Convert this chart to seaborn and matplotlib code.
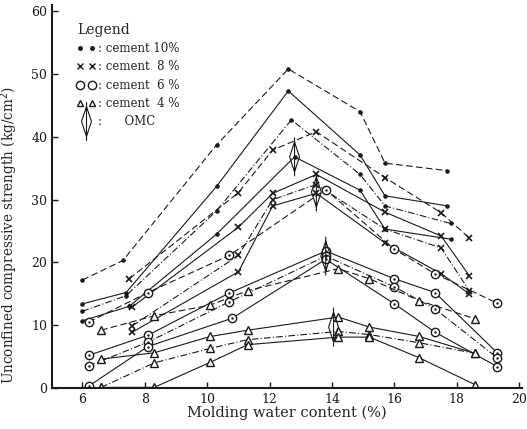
import numpy as np
import pandas as pd
import matplotlib
matplotlib.use("Agg")
import matplotlib.pyplot as plt
from matplotlib.path import Path
from matplotlib.lines import Line2D
from matplotlib.legend_handler import HandlerLine2D
import seaborn as sns

# ---------------- data ----------------
# cement 10 %
w10_a = [6.0, 7.3, 10.3, 12.6, 14.9, 15.7, 17.7]
s10_a = [17.2, 20.3, 38.7, 50.8, 44.0, 35.8, 34.6]
w10_b = [6.0, 7.4, 10.3, 12.6, 14.9, 15.7, 17.7]
s10_b = [13.4, 15.2, 32.1, 47.3, 37.1, 30.6, 29.0]
w10_c = [6.0, 7.4, 10.3, 12.7, 14.9, 15.7, 17.8]
s10_c = [12.2, 14.7, 28.2, 42.7, 34.0, 29.0, 26.2]
w10_d = [6.0, 7.5, 10.3, 12.8, 14.9, 15.7, 17.8]
s10_d = [10.7, 13.0, 24.5, 36.8, 31.5, 25.3, 23.7]
# cement 8 %
w8_a = [7.5, 11.0, 12.1, 13.5, 15.7, 17.5, 18.4]
s8_a = [17.4, 31.1, 37.9, 40.8, 33.5, 27.9, 23.9]
w8_b = [7.6, 11.0, 12.1, 13.5, 15.7, 17.5, 18.4]
s8_b = [12.9, 25.6, 31.0, 34.0, 28.0, 24.2, 17.9]
w8_c = [7.6, 11.0, 12.1, 13.5, 15.7, 17.5, 18.4]
s8_c = [9.9, 21.1, 30.0, 32.4, 25.3, 22.3, 15.5]
w8_d = [7.6, 11.0, 12.1, 13.5, 15.7, 17.5, 18.4]
s8_d = [8.9, 18.5, 29.0, 31.0, 23.1, 18.2, 15.0]
# cement 6 %
w6_a = [6.2, 8.1, 10.7, 13.8, 16.0, 17.3, 19.3]
s6_a = [10.5, 15.2, 21.1, 31.6, 22.1, 18.2, 13.5]
w6_b = [6.2, 8.1, 10.7, 13.8, 16.0, 17.3, 19.3]
s6_b = [5.2, 8.4, 15.1, 21.8, 17.4, 15.2, 5.6]
w6_c = [6.2, 8.1, 10.7, 13.8, 16.0, 17.3, 19.3]
s6_c = [3.5, 7.3, 13.7, 21.0, 16.1, 12.6, 4.8]
w6_d = [6.2, 8.1, 10.8, 13.8, 16.0, 17.3, 19.3]
s6_d = [0.3, 6.6, 11.1, 20.5, 13.4, 8.9, 3.4]
# cement 4 %
w4_a = [6.6, 8.3, 10.1, 11.3, 14.2, 15.2, 16.8, 18.6]
s4_a = [9.2, 11.5, 13.2, 15.5, 19.0, 17.4, 13.9, 11.0]
w4_b = [6.6, 8.3, 10.1, 11.3, 14.2, 15.2, 16.8, 18.6]
s4_b = [4.6, 5.6, 8.2, 9.2, 11.3, 9.7, 8.2, 5.5]
w4_c = [6.6, 8.3, 10.1, 11.3, 14.2, 15.2, 16.8, 18.6]
s4_c = [0.1, 4.0, 6.3, 7.7, 9.0, 8.5, 7.2, 5.5]
w4_d = [6.6, 8.3, 10.1, 11.3, 14.2, 15.2, 16.8, 18.6]
s4_d = [0.1, 0.1, 4.1, 6.9, 8.1, 8.1, 4.8, 0.5]
# OMC markers
omc_w = [12.8, 13.5, 13.8, 14.05]
omc_s = [36.8, 31.2, 21.0, 9.7]

x_ticks = [6, 8, 10, 12, 14, 16, 18, 20]
y_ticks = [0, 10, 20, 30, 40, 50, 60]

series = {
    "10a": (w10_a, s10_a, "10"), "10b": (w10_b, s10_b, "10"),
    "10c": (w10_c, s10_c, "10"), "10d": (w10_d, s10_d, "10"),
    "8a": (w8_a, s8_a, "8"), "8b": (w8_b, s8_b, "8"),
    "8c": (w8_c, s8_c, "8"), "8d": (w8_d, s8_d, "8"),
    "6a": (w6_a, s6_a, "6"), "6b": (w6_b, s6_b, "6"),
    "6c": (w6_c, s6_c, "6"), "6d": (w6_d, s6_d, "6"),
    "4a": (w4_a, s4_a, "4"), "4b": (w4_b, s4_b, "4"),
    "4c": (w4_c, s4_c, "4"), "4d": (w4_d, s4_d, "4"),
}
rows = []
for name, (ws, ss, cem) in series.items():
    for i, (w, s) in enumerate(zip(ws, ss)):
        rows.append(dict(series=name, cement=cem, order=i, water=w, strength=s))
df = pd.DataFrame(rows)

# ---------------- styles ----------------
line_styles = {"a": (0, (6, 3)), "b": "-", "c": (0, (6, 2, 1, 2)), "d": "-"}
marker_styles = {
    "10": dict(marker="o", markersize=2.5, markerfacecolor="k"),
    "8": dict(marker="x", markersize=5, markeredgewidth=1.2),
    "6": dict(marker="o", markersize=6, markerfacecolor="white", markeredgewidth=1.0),
    "4": dict(marker="^", markersize=6, markerfacecolor="white", markeredgewidth=1.0),
}

sns.set_theme(style="ticks")
plt.rcParams["font.family"] = ["DejaVu Serif"]

fig = plt.figure(figsize=(5.27, 4.29), dpi=100)
ax = fig.add_axes([0.099, 0.0956, 0.892, 0.893])

for name, sub in df.groupby("series", sort=False):
    cem = sub["cement"].iloc[0]
    sns.lineplot(data=sub.sort_values("order"), x="water", y="strength", ax=ax,
                 sort=False, estimator=None, color="k", lw=0.8,
                 linestyle=line_styles[name[-1]], markeredgecolor="k",
                 **marker_styles[cem])
    if cem == "6":
        sns.scatterplot(data=sub, x="water", y="strength", ax=ax, color="k",
                        s=3, linewidth=0, zorder=5)

# OMC diamond marker (tall diamond with vertical stem)
verts = [(0, -1.3), (0, 1.3), (0, -1), (0.33, 0), (0, 1), (-0.33, 0), (0, -1)]
codes = [Path.MOVETO, Path.LINETO, Path.MOVETO, Path.LINETO, Path.LINETO,
         Path.LINETO, Path.LINETO]
omc_marker = Path(verts, codes)
sns.scatterplot(x=omc_w, y=omc_s, ax=ax, marker=omc_marker, s=28 ** 2,
                facecolor="none", edgecolor="k", linewidth=0.8, zorder=6)

ax.set_xlim(5.03, 20.1)
ax.set_ylim(0, 61)
ax.set_xticks(x_ticks)
ax.set_yticks(y_ticks)
ax.tick_params(direction="in", length=4, width=1, labelsize=9, colors="k")
sns.despine(ax=ax)
for sp in ("left", "bottom"):
    ax.spines[sp].set_linewidth(1.5)
    ax.spines[sp].set_color("k")
ax.set_xlabel("Molding water content (%)", fontsize=10.5, labelpad=0)
ax.set_ylabel("Unconfined compressive strength (kg/cm$^2$)", fontsize=9.8)
ax.yaxis.set_label_coords(-0.068, 0.40)

handles = [
    Line2D([], [], ls="none", color="k", marker="o", markersize=2.5),
    Line2D([], [], ls="none", color="k", marker="x", markersize=4),
    Line2D([], [], ls="none", color="k", marker="o", markersize=6, mfc="white"),
    Line2D([], [], ls="none", color="k", marker="^", markersize=4, mfc="white"),
    Line2D([], [], ls="none", color="k", marker=omc_marker, markersize=28, mfc="none", mew=0.8),
]
labels = [": cement 10%", ": cement  8 %", ": cement  6 %", ": cement  4 %", ":      OMC"]
leg = ax.legend(handles, labels, title="Legend", loc="upper left",
                bbox_to_anchor=(0.035, 0.975), frameon=False, numpoints=2,
                fontsize=8.5, title_fontsize=10, alignment="left",
                handlelength=1.6, handletextpad=0.2, labelspacing=0.45,
                borderpad=0.2,
                handler_map={handles[-1]: HandlerLine2D(numpoints=1)})

fig.savefig("out.png", dpi=100)
